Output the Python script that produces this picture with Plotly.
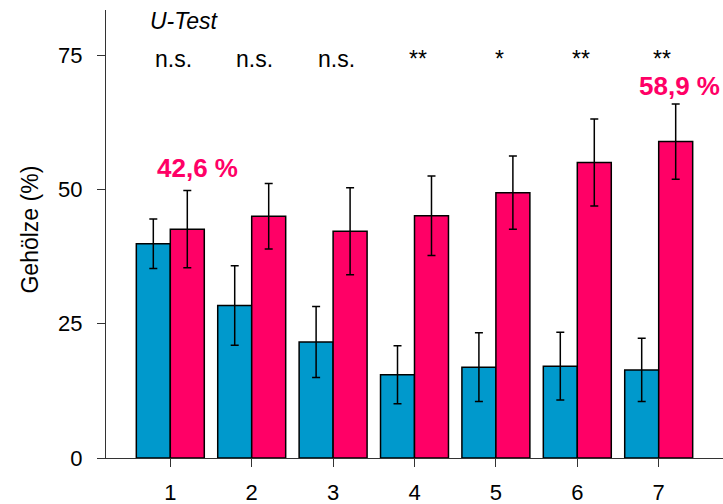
import plotly.graph_objects as go

# Sites 1-7, share of woody plants (%) with standard deviation
categories = [1, 2, 3, 4, 5, 6, 7]
blue_values = [39.9, 28.4, 21.6, 15.5, 16.9, 17.1, 16.4]
blue_err = [4.6, 7.4, 6.6, 5.4, 6.4, 6.3, 5.9]
pink_values = [42.6, 45.0, 42.2, 45.1, 49.4, 55.0, 58.9]
pink_err = [7.2, 6.1, 8.1, 7.4, 6.8, 8.1, 7.0]
significance = ["n.s.", "n.s.", "n.s.", "**", "*", "**", "**"]
tick_values = [0, 25, 50, 75]

BLUE = "#0099CC"
PINK = "#FF0066"
FONT = "Arial, Liberation Sans, sans-serif"

fig = go.Figure()
fig.add_trace(go.Bar(
    x=categories, y=blue_values,
    marker=dict(color=BLUE, line=dict(color="black", width=1.5)),
    error_y=dict(type="data", array=blue_err, color="black", thickness=1.5, width=4),
    showlegend=False,
))
fig.add_trace(go.Bar(
    x=categories, y=pink_values,
    marker=dict(color=PINK, line=dict(color="black", width=1.5)),
    error_y=dict(type="data", array=pink_err, color="black", thickness=1.5, width=4),
    showlegend=False,
))

def fmt_pct(v):
    return f"{v:.1f}".replace(".", ",") + " %"

annotations = []
# significance marks of the U-test above each site
for cat, sig in zip(categories, significance):
    annotations.append(dict(
        x=cat + 0.04, y=74.3, xref="x", yref="y", text=sig, showarrow=False,
        font=dict(family=FONT, size=23, color="black"),
    ))
annotations.append(dict(
    x=0.73, y=81.3, xref="x", yref="y", text="<i>U-Test</i>", showarrow=False,
    xanchor="left", font=dict(family=FONT, size=23, color="black"),
))
# value labels for the first and last pink bar
annotations.append(dict(
    x=1.34, y=54.0, xref="x", yref="y", text=f"<b>{fmt_pct(pink_values[0])}</b>",
    showarrow=False, font=dict(family=FONT, size=26, color=PINK),
))
annotations.append(dict(
    x=7.26, y=69.3, xref="x", yref="y", text=f"<b>{fmt_pct(pink_values[-1])}</b>",
    showarrow=False, font=dict(family=FONT, size=26, color=PINK),
))
# y axis title
annotations.append(dict(
    x=0, y=0.51, xref="paper", yref="paper", xshift=-76, xanchor="center",
    yanchor="middle", text="Gehölze (%)", textangle=-90, showarrow=False,
    font=dict(family=FONT, size=23, color="black"),
))

fig.update_layout(
    width=723, height=504,
    margin=dict(l=106, r=0, t=10, b=46),
    paper_bgcolor="white", plot_bgcolor="white",
    barmode="group", bargap=0.165, bargroupgap=0,
    annotations=annotations,
    font=dict(family=FONT, size=22, color="black"),
    xaxis=dict(
        range=[0.21, 7.79], tickmode="array", tickvals=categories,
        ticktext=[str(c) for c in categories], automargin=False,
        showline=True, linecolor="#333", linewidth=1.3,
        ticks="outside", ticklen=8, tickcolor="#333", tickwidth=1.3,
        showgrid=False, zeroline=False, ticklabelstandoff=6,
        tickfont=dict(family=FONT, size=22, color="black"),
    ),
    yaxis=dict(
        range=[0, 83.4], tickmode="array", tickvals=tick_values, automargin=False,
        showline=True, linecolor="#333", linewidth=1.3,
        ticks="outside", ticklen=8, tickcolor="#333", tickwidth=1.3,
        showgrid=False, zeroline=False, ticklabelstandoff=10,
        tickfont=dict(family=FONT, size=22, color="black"),
    ),
)

fig.write_html("out.html")
